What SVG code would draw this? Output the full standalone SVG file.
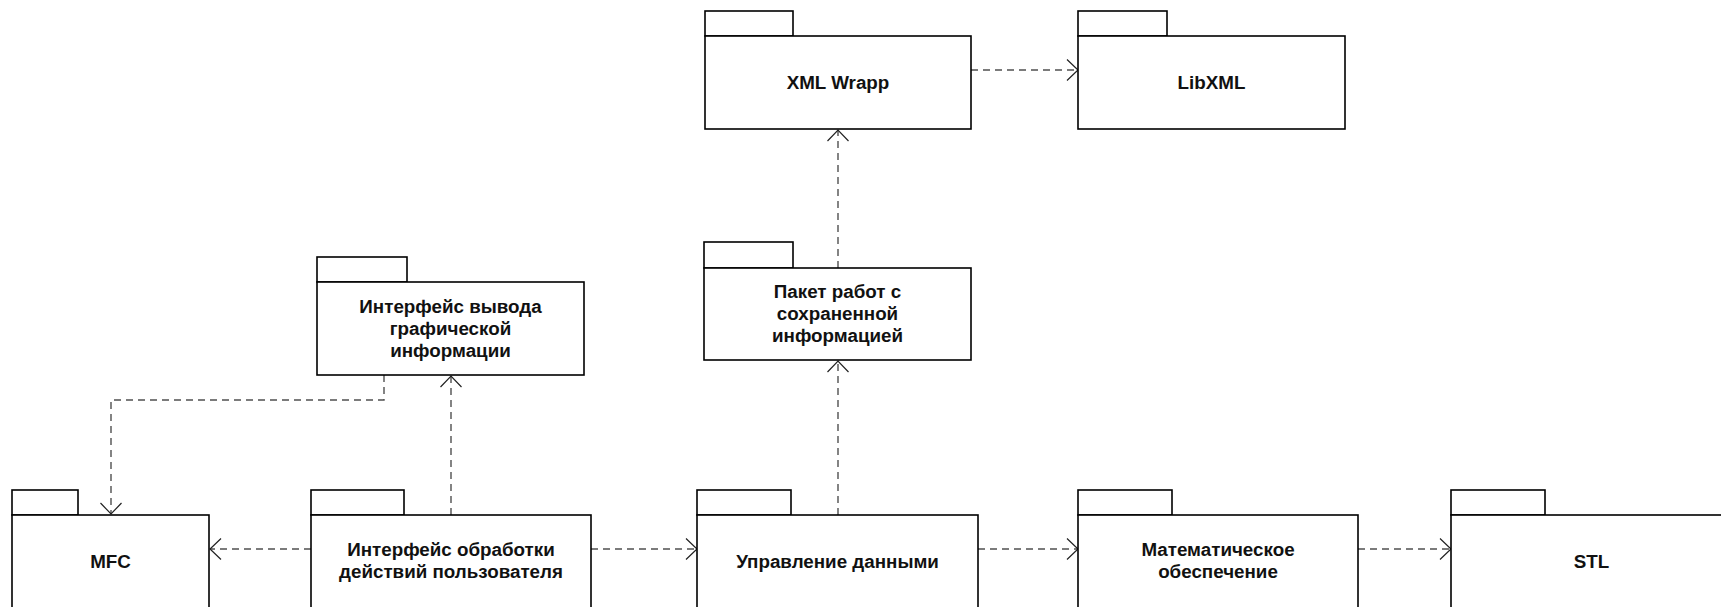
<svg xmlns="http://www.w3.org/2000/svg" width="1721" height="607" viewBox="0 0 1721 607">
<style>
.pk{fill:#fff;stroke:#000;stroke-width:1.6}
.lb{font-family:"Liberation Sans",Arial,sans-serif;font-weight:bold;font-size:18.8px;fill:#111;text-anchor:middle}
.dep{fill:none;stroke:#505050;stroke-width:1.4;stroke-dasharray:7 5}
</style>
<defs>
<marker id="arr" markerUnits="userSpaceOnUse" markerWidth="30" markerHeight="30" viewBox="-15 -15 30 30" refX="0" refY="0" orient="auto">
<path d="M -11 -10.5 L 0 0 L -11 10.5" fill="none" stroke="#222" stroke-width="1.2"/>
</marker>
</defs>
<rect width="1721" height="607" fill="#fff"/>
<g id="connectors">
<path class="dep" d="M 311 549 H 210" marker-end="url(#arr)"/>
<path class="dep" d="M 591 549 H 697" marker-end="url(#arr)"/>
<path class="dep" d="M 978 549 H 1078" marker-end="url(#arr)"/>
<path class="dep" d="M 1358 549 H 1451" marker-end="url(#arr)"/>
<path class="dep" d="M 838 515 V 361" marker-end="url(#arr)"/>
<path class="dep" d="M 838 268 V 130" marker-end="url(#arr)"/>
<path class="dep" d="M 971 70 H 1078" marker-end="url(#arr)"/>
<path class="dep" d="M 451 515 V 376" marker-end="url(#arr)"/>
<path class="dep" d="M 384 375 V 400 H 111 V 514" marker-end="url(#arr)"/>
</g>
<g id="xmlwrapp">
<rect class="pk" x="705" y="11" width="88" height="25"/>
<rect class="pk" x="705" y="36" width="266" height="93"/>
<text class="lb" x="838" y="89">XML Wrapp</text>
</g>
<g id="libxml">
<rect class="pk" x="1078" y="11" width="89" height="25"/>
<rect class="pk" x="1078" y="36" width="267" height="93"/>
<text class="lb" x="1211.5" y="89">LibXML</text>
</g>
<g id="paket">
<rect class="pk" x="704" y="242" width="89" height="26"/>
<rect class="pk" x="704" y="268" width="267" height="92"/>
<text class="lb" x="837.5" y="298">Пакет работ с</text>
<text class="lb" x="837.5" y="320">сохраненной</text>
<text class="lb" x="837.5" y="342">информацией</text>
</g>
<g id="vyvod">
<rect class="pk" x="317" y="257" width="90" height="25"/>
<rect class="pk" x="317" y="282" width="267" height="93"/>
<text class="lb" x="450.5" y="313">Интерфейс вывода</text>
<text class="lb" x="450.5" y="335">графической</text>
<text class="lb" x="450.5" y="357">информации</text>
</g>
<g id="mfc">
<rect class="pk" x="12" y="490" width="66" height="25"/>
<rect class="pk" x="12" y="515" width="197" height="100"/>
<text class="lb" x="110.5" y="568">MFC</text>
</g>
<g id="obrabotka">
<rect class="pk" x="311" y="490" width="93" height="25"/>
<rect class="pk" x="311" y="515" width="280" height="100"/>
<text class="lb" x="451" y="556">Интерфейс обработки</text>
<text class="lb" x="451" y="578">действий пользователя</text>
</g>
<g id="upravlenie">
<rect class="pk" x="697" y="490" width="94" height="25"/>
<rect class="pk" x="697" y="515" width="281" height="100"/>
<text class="lb" x="837.5" y="568">Управление данными</text>
</g>
<g id="matematika">
<rect class="pk" x="1078" y="490" width="94" height="25"/>
<rect class="pk" x="1078" y="515" width="280" height="100"/>
<text class="lb" x="1218" y="556">Математическое</text>
<text class="lb" x="1218" y="578">обеспечение</text>
</g>
<g id="stl">
<rect class="pk" x="1451" y="490" width="94" height="25"/>
<rect class="pk" x="1451" y="515" width="281" height="100"/>
<text class="lb" x="1591.5" y="568">STL</text>
</g>
</svg>
